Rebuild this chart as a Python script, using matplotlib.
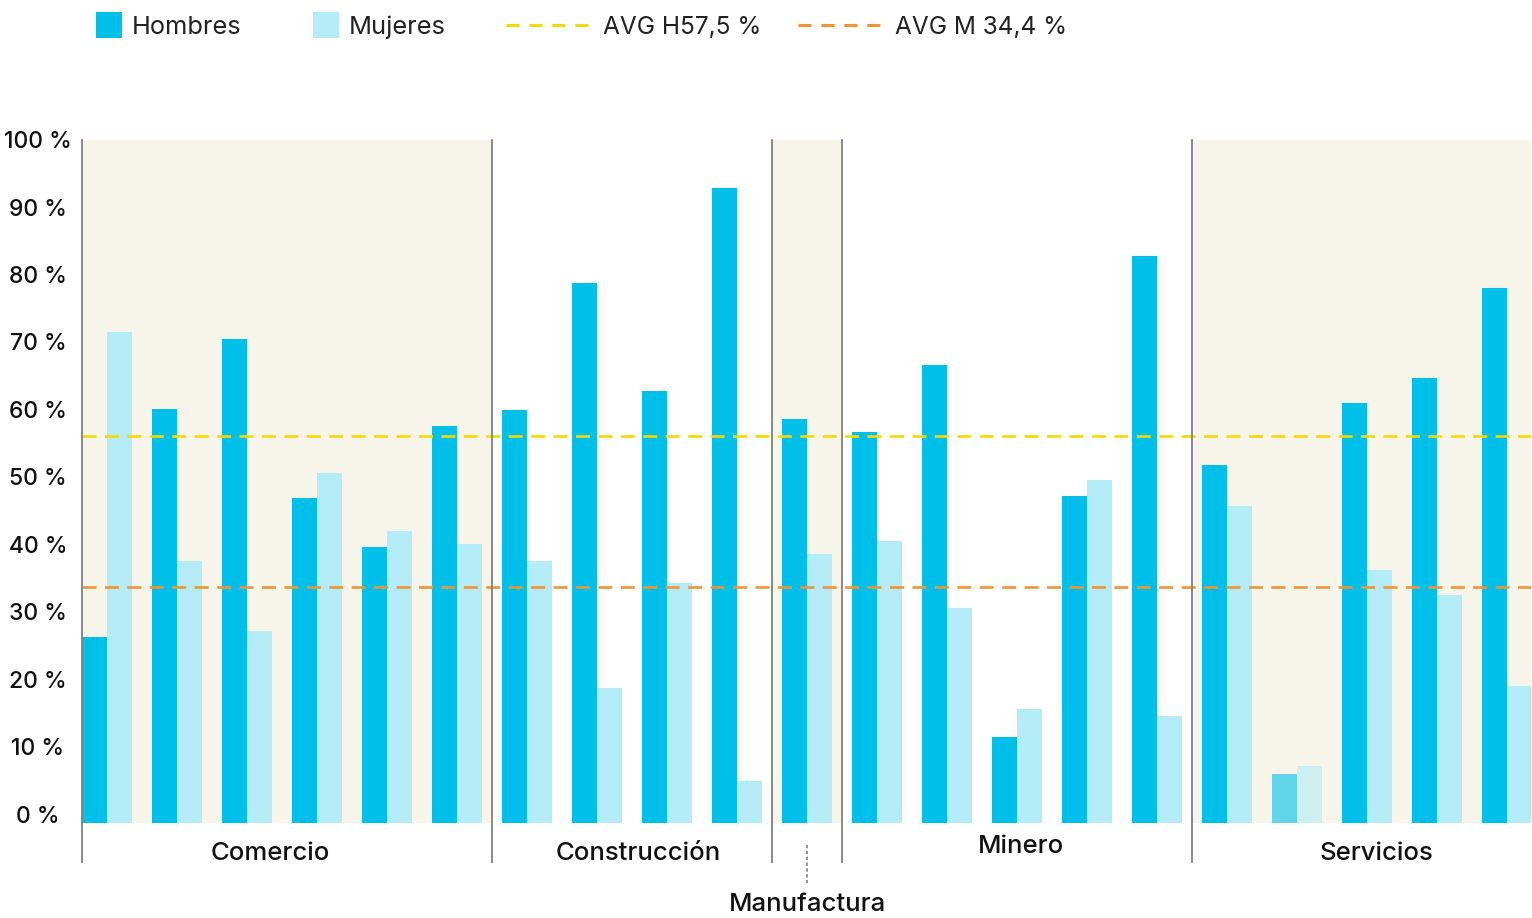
import numpy as np
import matplotlib.pyplot as plt
from matplotlib.lines import Line2D
from matplotlib.patches import Rectangle

plt.rcParams['font.family'] = ['Inter', 'DejaVu Sans']

# data
sectors = ["Comercio", "Construcción", "Manufactura", "Minero", "Servicios"]
sector_sizes = [6, 4, 1, 5, 5]
hombres = [27.2, 60.6, 70.9, 47.6, 40.4, 58.1,
           60.5, 79.1, 63.3, 93.0,
           59.2,
           57.2, 67.1, 12.6, 47.9, 83.0,
           52.4, 7.2, 61.5, 65.2, 78.3]
mujeres = [71.9, 38.4, 28.1, 51.2, 42.8, 40.8,
           38.4, 19.8, 35.1, 6.1,
           39.4,
           41.3, 31.5, 16.7, 50.2, 15.7,
           46.4, 8.3, 37.0, 33.4, 20.1]
avg_h = 56.7
avg_m = 34.6
avg_h_label = "AVG H57,5 %"
avg_m_label = "AVG M 34,4 %"
yticks = list(range(0, 101, 10))
ytick_labels = ["%d %%" % v for v in yticks]

col_h = "#00bfe9"
col_m = "#b3ebf6"
col_h_dim = "#62d4ea"
col_m_dim = "#cdeff2"
bg = "#f7f4ea"
yellow = "#f7d900"
orange = "#f29432"
sep_col = "#808080"
txt = "#111111"

fig = plt.figure(figsize=(15.32, 9.18), dpi=100)
ax = fig.add_axes([82 / 1532, (918 - 823) / 918, (1531 - 82) / 1532, 683 / 918])

w = 0.357
x = np.arange(len(hombres))
ch = [col_h] * len(hombres)
cm = [col_m] * len(mujeres)
ch[17] = col_h_dim
cm[17] = col_m_dim

# sector boundaries and shading
edges = np.cumsum([0] + sector_sizes)
bounds = [0.0] + [e - 0.15 for e in edges[1:-1]] + [len(hombres) - 0.3]
for k in range(len(sectors)):
    if k % 2 == 0:
        ax.add_patch(Rectangle((bounds[k], 0), bounds[k + 1] - bounds[k], 100,
                               facecolor=bg, edgecolor="none", zorder=0))
for b in bounds[:-1]:
    ax.plot([b, b], [-5.7, 100], color=sep_col, lw=1.3, clip_on=False, zorder=3)

ax.bar(x, hombres, width=w, align="edge", color=ch, zorder=1)
ax.bar(x + w, mujeres, width=w, align="edge", color=cm, zorder=1)

ax.axhline(avg_h, color=yellow, lw=1.9, dashes=(5.3, 3.2), zorder=2)
ax.axhline(avg_m, color=orange, lw=1.9, dashes=(5.3, 3.2), zorder=2)

ax.set_xlim(0, len(hombres) - 0.3)
ax.set_ylim(0, 100)
for s in ax.spines.values():
    s.set_visible(False)
ax.set_xticks([])
ax.set_yticks([])

# y labels, centred in the left margin
for v, lab in zip(yticks, ytick_labels):
    ax.text(-0.0304, v + 0.9 - v * 0.012, lab, transform=ax.get_yaxis_transform(),
            ha="center", va="center", fontsize=16.5, color=txt, fontweight="medium")

# sector labels
label_x = [2.69, 7.94, 10.37, 13.41, 18.49]
label_y = [-4.4, -4.4, -11.9, -3.4, -4.4]
for name, lx, ly in zip(sectors, label_x, label_y):
    ax.text(lx, ly, name, ha="center", va="center", fontsize=18.5, color=txt,
            fontweight="medium", clip_on=False)
ax.plot([10.36, 10.36], [-3.2, -8.8], color=sep_col, lw=1.2, ls=(0, (2, 1.5)),
        clip_on=False)

# legend drawn by hand along the top
fig.patches.append(Rectangle((96 / 1532, 1 - 38 / 918), 26 / 1532, 26 / 918,
                             transform=fig.transFigure, facecolor=col_h))
fig.text(132 / 1532, 1 - 27 / 918, "Hombres", fontsize=18.3, color="#222222", va="center")
fig.patches.append(Rectangle((313 / 1532, 1 - 38 / 918), 26 / 1532, 26 / 918,
                             transform=fig.transFigure, facecolor=col_m))
fig.text(349 / 1532, 1 - 27 / 918, "Mujeres", fontsize=18.3, color="#222222", va="center")
fig.lines.append(Line2D([506 / 1532, 590 / 1532], [1 - 25 / 918] * 2, transform=fig.transFigure,
                        color=yellow, lw=2.2, dashes=(4.3, 3.2)))
fig.text(603 / 1532, 1 - 27 / 918, avg_h_label, fontsize=17.6, color="#222222", va="center")
fig.lines.append(Line2D([798 / 1532, 882 / 1532], [1 - 25 / 918] * 2, transform=fig.transFigure,
                        color=orange, lw=2.2, dashes=(4.3, 3.2)))
fig.text(895 / 1532, 1 - 27 / 918, avg_m_label, fontsize=17.6, color="#222222", va="center")

fig.savefig("out.png", dpi=100)
